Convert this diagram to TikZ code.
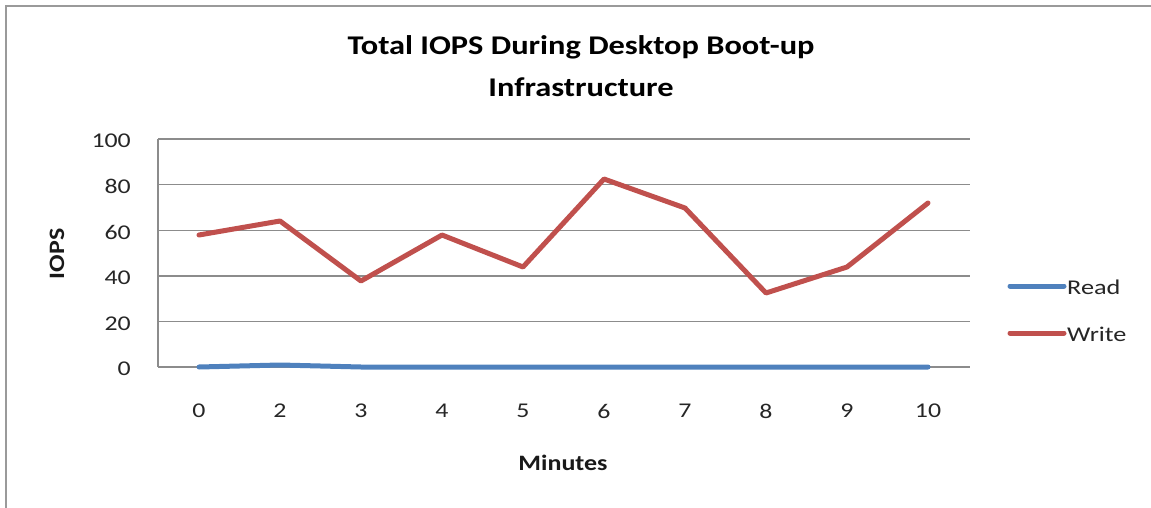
\documentclass[tikz,border=0pt]{standalone}
\usepackage{fontspec}
\setmainfont{Carlito}
\definecolor{readblue}{HTML}{4F81BD}
\definecolor{writered}{HTML}{C0504D}
\definecolor{gridgray}{HTML}{8C8C8C}
\definecolor{framegray}{HTML}{9A9A9A}
% horizontally widened text
\newcommand{\widetext}[2]{\scalebox{#1}[1]{#2}}
\begin{document}
\begin{tikzpicture}[x=1pt,y=-1pt,
  gridline/.style={draw=gridgray,line width=1.4pt},
  series/.style={line width=5pt,line join=round,line cap=round},
  ticklbl/.style={font=\fontsize{21}{21}\selectfont,text=black!85,inner sep=0pt},
  axistitle/.style={font=\fontsize{22}{22}\selectfont\bfseries,text=black!90,inner sep=0pt},
  legendlbl/.style={font=\fontsize{21}{21}\selectfont,text=black!85,anchor=west,inner sep=0pt}]
\useasboundingbox (0,0) rectangle (1151,508);
% outer frame: only top and left edges are visible
\draw[framegray,line width=2pt] (6,508) -- (6,6) -- (1151,6);
% title
\node[font=\fontsize{27}{27}\selectfont\bfseries,inner sep=0pt] (title1) at (581,47)
  {\widetext{1.2}{Total IOPS During Desktop Boot-up}};
\node[font=\fontsize{27}{27}\selectfont\bfseries,inner sep=0pt] (title2) at (581,87)
  {\widetext{1.2}{Infrastructure}};
% horizontal gridlines and value labels (0..100 step 20)
\foreach \v in {0,20,...,100}{
  \pgfmathsetmacro{\yy}{367-2.28*\v}
  \draw[gridline] (158,\yy) -- (970,\yy);
  \node[ticklbl,anchor=east] (y\v) at (131,\yy+2) {\widetext{1.23}{\v}};
}
% vertical axis
\draw[gridline] (158,139) -- (158,367);
% category labels
\foreach \lbl [count=\i from 0] in {0,2,3,4,5,6,7,8,9,10}{
  \node[ticklbl] (x\i) at (199+81*\i,411) {\widetext{1.23}{\lbl}};
}
% axis titles
\node[axistitle] (xtitle) at (563,463) {\widetext{1.18}{Minutes}};
\node[axistitle,rotate=90] (ytitle) at (57,254) {\widetext{1.18}{IOPS}};
% data series
\draw[series,readblue]
  (199,367) -- (280,365) -- (361,367) -- (442,367) -- (523,367) -- (604,367)
  -- (685,367) -- (766,367) -- (847,367) -- (928,367);
\draw[series,writered]
  (199,235) -- (280,221) -- (361,281) -- (442,235) -- (523,267) -- (604,179)
  -- (685,208) -- (766,293) -- (847,267) -- (928,203);
% legend
\coordinate (r0) at (1010,286);
\coordinate (r1) at (1064,286);
\coordinate (w0) at (1010,333);
\coordinate (w1) at (1064,333);
\draw[series,readblue] (r0) -- (r1);
\draw[series,writered] (w0) -- (w1);
\node[legendlbl] (readlbl) at (1067,287) {\widetext{1.25}{Read}};
\node[legendlbl] (writelbl) at (1067,334) {\widetext{1.25}{Write}};
\end{tikzpicture}
\end{document}
